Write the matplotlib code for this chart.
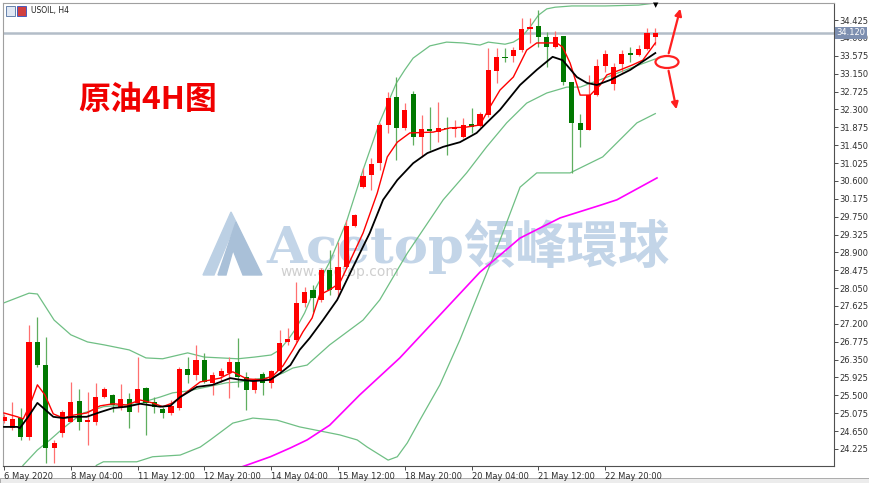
import numpy as np
import matplotlib
matplotlib.use("Agg")
import matplotlib.pyplot as plt
from matplotlib.patches import Polygon, Ellipse, Rectangle, FancyArrowPatch

plt.rcParams['font.family'] = ['DejaVu Sans', 'Noto Sans CJK SC']

# ---- candles (USOIL H4) ----
opens  = [24.89,24.72,24.96,24.51,26.77,26.22,24.25,24.60,24.87,25.37,24.87,24.87,25.46,25.51,25.23,25.42,25.32,25.67,25.34,25.18,
          25.08,25.20,26.13,25.98,26.34,25.80,25.96,26.03,26.29,25.94,25.63,26.01,25.80,26.08,26.77,26.82,27.70,28.01,27.77,28.48,
          28.01,28.55,29.53,30.45,30.74,31.02,31.93,32.59,31.86,32.67,31.64,31.83,31.76,31.86,31.83,31.64,31.95,31.91,32.17,33.21,
          33.55,33.57,33.71,34.21,34.28,34.02,33.78,34.04,32.95,31.98,31.81,32.64,33.33,32.90,33.38,33.64,33.59,33.74,34.02]
highs  = [25.05,25.34,25.20,27.17,27.36,26.89,24.44,25.15,25.82,25.65,25.58,25.80,25.70,25.53,25.77,25.56,26.41,25.70,25.46,25.23,
          25.39,26.17,26.41,26.70,26.51,26.06,26.15,26.41,26.86,26.06,25.91,26.06,26.10,27.05,27.10,28.20,28.08,28.13,28.52,28.96,
          29.15,29.67,29.81,30.91,31.14,31.98,32.71,33.07,32.45,32.74,32.17,32.36,32.48,32.12,32.05,32.10,32.33,32.24,33.76,33.76,
          33.76,33.78,34.47,34.47,34.66,34.14,34.16,34.04,32.95,32.19,33.12,33.50,33.71,33.40,33.71,33.78,33.83,34.23,34.23]
lows   = [24.85,24.68,24.44,24.44,26.17,23.89,23.89,24.51,24.87,24.68,24.32,24.79,25.44,25.10,25.15,24.72,25.10,24.56,25.08,24.96,
          25.03,25.15,25.80,25.87,25.80,25.51,25.82,25.44,25.70,25.15,25.56,25.51,25.67,26.06,26.70,26.77,27.60,27.48,27.72,27.89,
          27.84,28.53,29.50,30.43,30.38,30.86,31.74,31.10,31.81,31.45,31.17,31.33,31.52,31.21,31.64,31.62,31.74,31.88,32.12,32.93,
          33.43,33.43,33.66,33.88,33.78,33.31,33.76,32.88,30.79,31.41,31.81,32.62,33.19,32.76,33.19,33.43,33.57,33.71,33.83]
closes = [24.99,24.94,24.51,26.77,26.22,24.25,24.37,25.10,25.34,24.87,24.91,25.46,25.65,25.27,25.42,25.10,25.65,25.32,25.23,25.08,
          25.25,26.13,25.98,26.34,25.82,25.98,26.08,26.29,25.94,25.63,25.87,25.80,26.08,26.75,26.84,27.70,27.96,27.82,28.48,28.01,
          28.55,29.53,29.79,30.72,31.00,31.93,32.57,31.86,32.28,31.64,31.83,31.79,31.86,31.83,31.88,31.93,31.88,32.19,33.24,33.55,
          33.52,33.71,34.21,34.26,34.02,33.78,34.02,32.95,31.98,31.81,32.64,33.33,33.62,33.31,33.62,33.59,33.74,34.12,34.12]

# ---- indicator lines (bar index, price) ----
ma_fast_i = [0,1.6,2.3,3.1,4.0,4.9,5.9,7.1,8.3,9.9,11.5,13.1,14.7,16.3,17.8,19.0,20.2,21.9,23.5,25.9,27.4,29.1,30.9,32.2,33.4,34.6,
             35.8,36.9,37.8,39.0,40.2,41.1,43.0,44.7,45.9,47.1,48.6,51.4,53.4,55.4,57.0,58.2,59.4,61.0,62.6,63.8,66.2,66.9,67.8,69.0,
             70.2,71.4,72.2,73.8,75.3,76.5,78.0]
ma_fast   = [25.08,24.99,24.94,25.27,25.75,25.51,25.06,24.96,25.03,25.08,25.25,25.30,25.27,25.39,25.32,25.23,25.32,25.58,25.82,25.91,
             26.06,25.89,25.87,25.96,26.20,26.58,27.01,27.34,27.89,28.01,28.17,28.55,29.36,30.31,31.17,31.52,31.74,31.76,31.86,31.88,
             31.93,32.36,32.76,33.07,33.71,33.88,33.88,33.78,33.40,32.64,32.64,32.88,33.12,33.24,33.36,33.47,33.88]
ma_slow_i = [0,1.6,1.9,2.9,4.0,4.7,5.9,7.1,8.3,9.9,11.5,13.1,14.7,16.3,18.7,19.9,21.1,23.1,25.0,27.1,28.3,29.8,31.9,33.1,34.3,35.4,
             36.6,38.2,39.9,41.8,43.8,45.4,47.1,49.0,50.7,52.6,54.6,56.6,57.8,59.4,61.8,63.8,65.7,66.9,68.6,69.8,71.0,72.6,75.0,78.0]
ma_slow   = [24.75,24.75,24.72,24.99,25.32,25.20,24.99,24.96,24.99,24.99,25.10,25.20,25.23,25.30,25.23,25.25,25.46,25.70,25.75,25.91,
             25.87,25.84,25.87,26.03,26.22,26.58,26.86,27.29,27.77,28.55,29.36,30.15,30.62,31.02,31.26,31.41,31.52,31.74,31.98,32.29,
             32.88,33.24,33.55,33.47,33.07,32.93,32.88,33.00,33.24,33.64]
ma_long_i = [27.5,28.5,31.9,34.3,36.3,39.0,42.6,47.4,52.2,57.0,61.8,66.6,71.4,73.4,78.2]
ma_long   = [23.70,23.80,24.04,24.25,24.44,24.79,25.51,26.39,27.41,28.43,29.24,29.72,30.02,30.15,30.67]

bb_up_i = [0,3,4,6,8,10,12,15,17,19,22,24,28,30,32,33,34,35,36,37,39,41,43,45,47,48,49,51,53,55,57,58,60,61,62,63,64,65,66,68,72,76,78]
bb_up   = [27.70,27.93,27.91,27.29,26.94,26.77,26.70,26.58,26.39,26.37,26.51,26.41,26.37,26.41,26.46,26.58,26.82,27.10,27.46,27.93,
           28.67,29.62,30.86,32.00,32.93,33.24,33.52,33.81,33.90,33.88,33.83,33.90,33.85,33.90,34.02,34.26,34.54,34.69,34.73,34.76,
           34.76,34.78,34.83]
bb_mid_i = [1.5,2.3,4.0,5.5,7.1,8.3,9.5,10.7,11.9,13.1,14.7,16.3,17.5,18.7,20.2,21.9,24.3,26.7,28.3,30.3,32.2,33.4,34.6,36.3,39.0,
            43.0,45.0,46.6,48.3,52.6,55.4,57.8,60.2,62.6,65.0,67.4,69.0,72.0,75.0,78.0]
bb_mid   = [23.60,23.84,24.20,24.44,24.72,24.91,25.08,25.15,25.23,25.25,25.27,25.30,25.39,25.46,25.56,25.60,25.70,25.80,25.82,25.89,
            25.94,26.03,26.15,26.22,26.70,27.29,27.77,28.31,28.88,30.15,30.79,31.41,31.98,32.45,32.69,32.83,32.83,33.05,33.28,33.50]
bb_low_i = [10.5,11.1,11.9,15.9,17.8,21.1,23.5,24.7,27.4,29.8,32.7,35.4,40.2,42.3,43.5,46.0,47.1,48.3,49.8,52.2,54.6,57.0,59.4,61.8,
            63.8,67.8,71.7,75.8,78.0]
bb_low   = [23.70,23.84,23.92,23.92,24.04,24.08,24.27,24.44,24.84,24.96,24.91,24.75,24.56,24.44,24.27,23.96,24.04,24.37,24.91,25.75,
            26.82,28.01,29.19,30.45,30.79,30.79,31.17,31.98,32.20]

last_price = 34.12
y_ticks = np.round(np.arange(24.225, 34.43, 0.425), 3)
x_ticks = [0, 8, 16, 24, 32, 40, 48, 56, 64, 72]
x_labels = ['6 May 2020', '8 May 04:00', '11 May 12:00', '12 May 20:00', '14 May 04:00',
            '15 May 12:00', '18 May 20:00', '20 May 04:00', '21 May 12:00', '22 May 20:00']

W, H = 870, 483
fig = plt.figure(figsize=(W/100, H/100), dpi=100)
fig.patch.set_facecolor('white')

def fx(px):
    return px / W
def fy(py):
    return 1 - py / H

# bottom tab strip (behind everything)
fig.patches.append(Rectangle((0, 0), 1, fy(478), transform=fig.transFigure,
                             facecolor='#ececec', edgecolor='#a0a0a0', lw=0.6, zorder=-5))

ax = fig.add_axes([fx(3), fy(466), fx(834) - fx(3), fy(3) - fy(466)])
ax.set_xlim(-0.12, 99.4)
ax.set_ylim(23.82, 34.83)
ax.set_facecolor('none')

# watermark
ax.text(0.56, 0.475, 'Acetop領峰環球', transform=ax.transAxes, ha='center', va='center',
        fontsize=37, fontweight='bold', color='#c3d5e8',
        family=['DejaVu Serif', 'Noto Sans CJK TC'], zorder=0)
ax.text(0.405, 0.42, 'www.acetop.com', transform=ax.transAxes, ha='center', va='center',
        fontsize=10, color='#cfcfcf', zorder=0)
logo1 = Polygon([(fx(203), fy(275)), (fx(231), fy(212)), (fx(236), fy(222)), (fx(214), fy(275))],
                closed=True, transform=fig.transFigure, color='#bcd0e4', zorder=0)
logo2 = Polygon([(fx(236), fy(222)), (fx(262), fy(275)), (fx(243), fy(275)), (fx(233), fy(250)),
                 (fx(226), fy(275)), (fx(218), fy(275))],
                closed=True, transform=fig.transFigure, color='#a9c0d8', zorder=0)
ax.add_patch(logo1)
ax.add_patch(logo2)

# price line
ax.axhline(last_price, color='#b3bdc8', lw=1.8, zorder=1)

# indicators
ax.plot(bb_up_i, bb_up, color='#6fbf84', lw=0.9, zorder=2)
ax.plot(bb_mid_i, bb_mid, color='#6fbf84', lw=0.9, zorder=2)
ax.plot(bb_low_i, bb_low, color='#6fbf84', lw=0.9, zorder=2)
ax.plot(ma_long_i, ma_long, color='#ff00ff', lw=1.2, zorder=2)

# candles
idx = np.arange(len(opens))
o = np.array(opens); c = np.array(closes); h = np.array(highs); l = np.array(lows)
up = c >= o
ax.vlines(idx[up], l[up], h[up], color='#ff7070', lw=0.9, zorder=3)
ax.vlines(idx[~up], l[~up], h[~up], color='#5fae5f', lw=0.9, zorder=3)
body_lo = np.minimum(o, c)
body_h = np.maximum(np.abs(c - o), 0.03)
ax.bar(idx[up], body_h[up], bottom=body_lo[up], width=0.62, color='#ff0000', zorder=4)
ax.bar(idx[~up], body_h[~up], bottom=body_lo[~up], width=0.62, color='#007800', zorder=4)

ax.plot(ma_fast_i, ma_fast, color='#ff0000', lw=1.0, zorder=5)
ax.plot(ma_slow_i, ma_slow, color='#000000', lw=1.3, zorder=5)

# arrows and ellipse
ell = Ellipse((fx(667), fy(62)), fx(23), 12 / H, transform=fig.transFigure,
              fill=False, edgecolor='#ff2020', lw=1.6)
fig.patches.append(ell)
fig.add_artist(FancyArrowPatch((fx(668), fy(56)), (fx(681), fy(6)), transform=fig.transFigure,
                               arrowstyle='-|>', mutation_scale=10, color='#ff2020', lw=1.6))
fig.add_artist(FancyArrowPatch((fx(668), fy(68)), (fx(677), fy(112)), transform=fig.transFigure,
                               arrowstyle='-|>', mutation_scale=10, color='#ff2020', lw=1.6))

# label
fig.text(fx(78), fy(100), '原油4H图', fontsize=23, fontweight='bold', color='#f00000',
         va='center', ha='left', family=['Noto Sans CJK SC', 'DejaVu Sans'])

# header
fig.text(fx(31), fy(11), 'USOIL, H4', fontsize=5.5, color='#202020', va='center')
fig.patches.append(Rectangle((fx(6), fy(16)), fx(9), fy(6) - fy(16), transform=fig.transFigure,
                             facecolor='#e0e8f4', edgecolor='#5070a0', lw=0.6))
fig.patches.append(Rectangle((fx(17), fy(16)), fx(9), fy(6) - fy(16), transform=fig.transFigure,
                             facecolor='#d04040', edgecolor='#3050c0', lw=0.6))
fig.text(fx(656), fy(5), '▼', fontsize=5, color='black', ha='center', va='center')

# axes styling
for s in ['top', 'left']:
    ax.spines[s].set_color('#a0a0a0')
for s in ['right', 'bottom']:
    ax.spines[s].set_color('#505050')
ax.yaxis.tick_right()
ax.set_yticks(y_ticks)
ax.set_yticklabels([f'{v:.3f}' for v in y_ticks])
ax.tick_params(axis='y', labelsize=6, colors='#303030', length=3, width=0.6, pad=1)
ax.set_xticks(x_ticks)
ax.set_xticklabels(x_labels, ha='left')
ax.tick_params(axis='x', labelsize=6, colors='#303030', length=3, width=0.6, pad=1)

ax.text(1.003, (last_price - 23.82) / (34.83 - 23.82), f'{last_price:.3f}', transform=ax.transAxes,
        fontsize=6, color='white', va='center', ha='left',
        bbox=dict(boxstyle='square,pad=0.15', facecolor='#7d8fb0', edgecolor='none'))

fig.savefig('out.png', dpi=100)
